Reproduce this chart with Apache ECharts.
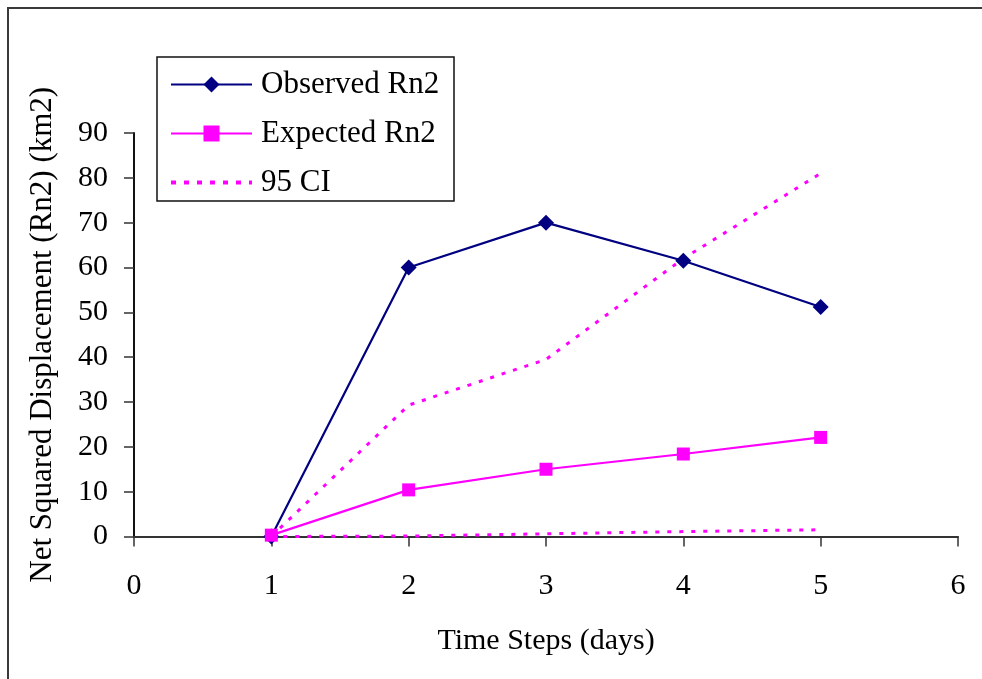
<!DOCTYPE html>
<html>
<head>
<meta charset="utf-8">
<script src="https://cdn.jsdelivr.net/npm/echarts@6/dist/echarts.min.js"></script>
<style>
  html, body { margin: 0; padding: 0; background: #fff; }
  #chart { width: 982px; height: 679px; }
</style>
</head>
<body>
<div id="chart"></div>
<script>
// ---- data ----
var timeSteps = [1, 2, 3, 4, 5];
var observedRn2 = [0, 60, 70, 61.5, 51.2];
var expectedRn2 = [0.3, 10.4, 15, 18.4, 22.1];
var ciUpper = [0, 29.3, 39.5, 62, 81];
var ciLower = [0, 0.1, 0.6, 1.1, 1.5];
var xTicks = [0, 1, 2, 3, 4, 5, 6];
var yTicks = [0, 10, 20, 30, 40, 50, 60, 70, 80, 90];
var seriesNames = ['Observed Rn2', 'Expected Rn2', '95 CI'];
var xAxisTitle = 'Time Steps (days)';
var yAxisTitle = 'Net Squared Displacement (Rn2) (km2)';

function pairs(xs, ys) { return xs.map(function (x, i) { return [x, ys[i]]; }); }

var FONT = "'Liberation Serif', 'Times New Roman', serif";
var chart = echarts.init(document.getElementById('chart'), null, { renderer: 'canvas' });

chart.setOption({
  backgroundColor: '#ffffff',
  animation: false,
  grid: { left: 134, right: 24, top: 133, bottom: 142.5, containLabel: false },
  graphic: [
    { type: 'rect', shape: { x: 8, y: 8, width: 990, height: 700 },
      style: { fill: 'none', stroke: '#3a3a3a', lineWidth: 2 }, z: 0 },
    { type: 'rect', shape: { x: 157, y: 57, width: 297, height: 144 },
      style: { fill: '#ffffff', stroke: '#111111', lineWidth: 1.5 }, z: 10 }
  ],
  legend: {
    data: [
      { name: seriesNames[0], lineStyle: { width: 2.2 } },
      { name: seriesNames[1], lineStyle: { width: 2.2 } },
      { name: seriesNames[2], itemStyle: { opacity: 0 }, lineStyle: { width: 4, type: [5, 8] } }
    ],
    orient: 'vertical',
    left: 169,
    top: 69,
    itemWidth: 81,
    itemHeight: 20,
    itemGap: 18,
    padding: 0,
    z: 20,
    textStyle: { fontFamily: FONT, fontSize: 31, color: '#000', lineHeight: 30, padding: [0, 0, 0, 4] }
  },
  xAxis: {
    type: 'value', min: xTicks[0], max: xTicks[xTicks.length - 1], interval: 1,
    name: xAxisTitle, nameLocation: 'middle', nameGap: 90,
    nameTextStyle: { fontFamily: FONT, fontSize: 30, color: '#000' },
    axisLine: { show: true, onZero: false, lineStyle: { color: '#333', width: 2 } },
    axisTick: { show: true, inside: false, length: 10, lineStyle: { color: '#333', width: 1.5 } },
    axisLabel: { fontFamily: FONT, fontSize: 30, color: '#000', margin: 35 },
    splitLine: { show: false }
  },
  yAxis: {
    type: 'value', min: yTicks[0], max: yTicks[yTicks.length - 1], interval: 10,
    name: yAxisTitle, nameLocation: 'middle', nameGap: 76,
    nameTextStyle: { fontFamily: FONT, fontSize: 31, color: '#000' },
    axisLine: { show: true, onZero: false, lineStyle: { color: '#111', width: 2 } },
    axisTick: { show: true, inside: false, length: 10, lineStyle: { color: '#333', width: 1.5 } },
    axisLabel: { fontFamily: FONT, fontSize: 30, color: '#000', margin: 26 },
    splitLine: { show: false }
  },
  series: [
    {
      name: seriesNames[2], type: 'line', data: pairs(timeSteps, ciUpper),
      symbol: 'none', z: 2,
      lineStyle: { color: '#ff00ff', width: 3, type: [4, 8] },
      itemStyle: { color: '#ff00ff' }
    },
    {
      name: seriesNames[2], type: 'line', data: pairs(timeSteps, ciLower),
      symbol: 'none', z: 2,
      lineStyle: { color: '#ff00ff', width: 3, type: [4, 8] },
      itemStyle: { color: '#ff00ff' }
    },
    {
      name: seriesNames[0], type: 'line', data: pairs(timeSteps, observedRn2),
      symbol: 'diamond', symbolSize: 16, z: 3,
      lineStyle: { color: '#000080', width: 2.2 },
      itemStyle: { color: '#000080' }
    },
    {
      name: seriesNames[1], type: 'line', data: pairs(timeSteps, expectedRn2),
      symbol: 'rect', symbolSize: 13, z: 4,
      lineStyle: { color: '#ff00ff', width: 2.2 },
      itemStyle: { color: '#ff00ff' }
    }
  ]
});
</script>
</body>
</html>
